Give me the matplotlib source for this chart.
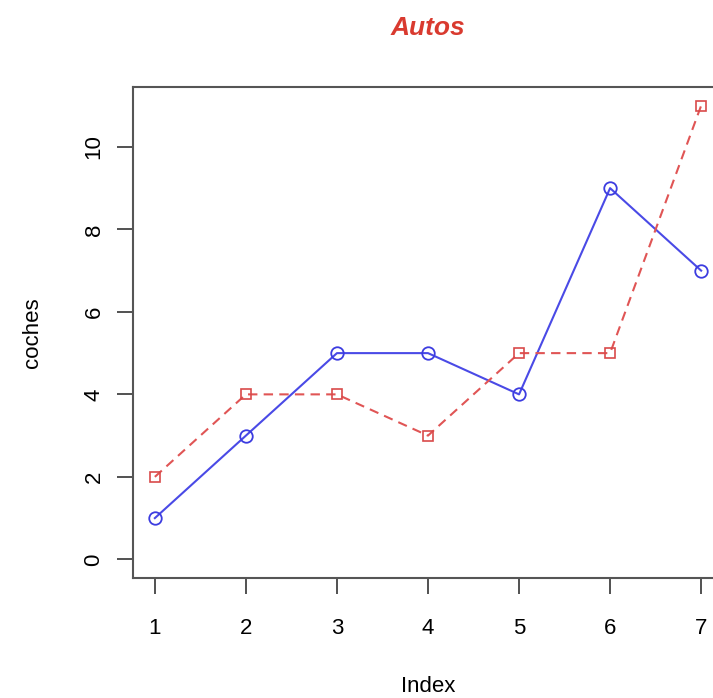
import matplotlib
matplotlib.use("Agg")
import matplotlib.pyplot as plt

index = [1, 2, 3, 4, 5, 6, 7]
cars = [1, 3, 5, 5, 4, 9, 7]
trucks = [2, 4, 4, 3, 5, 5, 11]
yticks = [0, 2, 4, 6, 8, 10]

plt.rcParams['font.family'] = ['Liberation Sans', 'DejaVu Sans']

fig = plt.figure(figsize=(7.13, 6.98), dpi=100)
ax = fig.add_axes([133/713, 1-577.5/698, 590/713, 490/698])

ax.plot(index, cars, color='#4a4ae6', lw=1.5, marker='o', ms=9,
        mfc='none', mec='#3c3ce0', mew=1.3)
ax.plot(index, trucks, color='#e05555', lw=1.5, ls=(0, (4.5, 3)), marker='s', ms=7,
        mfc='none', mec='#d94a4a', mew=1.2)

ax.set_xlim(0.76, 7.24)
ax.set_ylim(-0.44, 11.44)
ax.set_xticks(index)
ax.set_yticks(yticks)
ax.tick_params(axis='both', length=11.5, width=1.2, color='#333333', labelsize=16)
ax.tick_params(axis='x', pad=18)
ax.tick_params(axis='y', pad=9)
for lab in ax.get_yticklabels():
    lab.set_rotation(90)
    lab.set_va('center')
for s in ax.spines.values():
    s.set_color('#555555')
    s.set_linewidth(1.5)

ax.set_xlabel('Index', fontsize=16, labelpad=26)
ax.set_ylabel('coches', fontsize=16, labelpad=29)
fig.text(428/713, 1-28/698, 'Autos', color='#d93a2f', fontsize=19,
         fontweight='bold', fontstyle='italic', ha='center', va='center')

fig.savefig('out.png', dpi=100)
